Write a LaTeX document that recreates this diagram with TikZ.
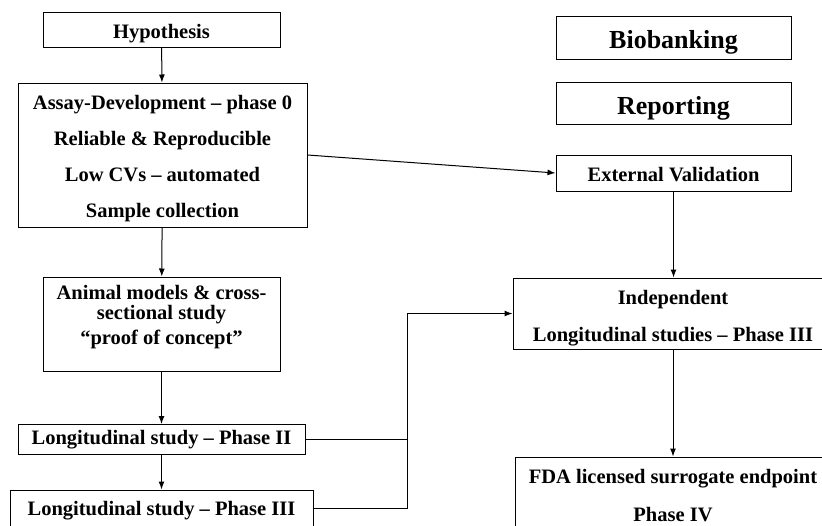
\documentclass[tikz,border=0pt]{standalone}
\usepackage{fontspec}
\setmainfont{Liberation Serif}
\usepackage{tikz}
\usetikzlibrary{arrows.meta}

\begin{document}
\begin{tikzpicture}[x = 1pt, y = -1pt, line width = 1pt,
  >={Latex[length = 8pt, width = 6pt]},
  box/.style = {draw, line width = 1pt, align = center, inner sep = 0pt,
    font = \fontsize{20.5}{22}\selectfont\bfseries},
  big/.style = {font = \fontsize{26}{30}\selectfont\bfseries}]
  \useasboundingbox (0, 0) rectangle (822, 525);
  \clip (0, 0) rectangle (822, 525);
  % left column
  \node[box, minimum width = 237, minimum height = 35] at (161.5, 29.5) (hyp)
    {\rule{0pt}{22pt}Hypothesis};
  \node[box, minimum width = 289, minimum height = 144] at (162.5, 155) (assay)
    {\rule{0pt}{22pt}Assay-Development -- phase 0\\[14pt] Reliable \& Reproducible\\[14pt]
     Low CVs -- automated\\[14pt] Sample collection};
  \node[box, minimum width = 237, minimum height = 94] at (161.5, 324) (animal)
    {Animal models \& cross-\\[-2pt] sectional study\\[3pt]
     “proof of concept”\rule[-18pt]{0pt}{0pt}};
  \node[box, minimum width = 287, minimum height = 30] at (161.5, 439.5) (ph2)
    {Longitudinal study -- Phase II};
  \node[box, minimum width = 303, minimum height = 36] at (161.5, 508) (ph3)
    {\rule{0pt}{20pt}Longitudinal study -- Phase III};
  % right column
  \node[box, big, minimum width = 235, minimum height = 43] at (673.5, 37.5) (bio)
    {\rule{0pt}{28pt}Biobanking};
  \node[box, big, minimum width = 235, minimum height = 42] at (673.5, 103) (rep)
    {\rule{0pt}{28pt}Reporting};
  \node[box, minimum width = 235, minimum height = 36] at (673.5, 173) (ext)
    {\rule{0pt}{17pt}External Validation};
  \node[box, minimum width = 320, minimum height = 71] at (673, 313.5) (ind)
    {\rule{0pt}{24pt}Independent\\[15pt] Longitudinal studies -- Phase III};
  \node[box, minimum width = 316, minimum height = 78] at (673, 496) (fda)
    {FDA licensed surrogate endpoint\\[16pt] Phase IV};
  \coordinate (bend) at (407, 313.5);
  % connectors
  \draw[->] (hyp) -- (assay);
  \draw[->] (assay) -- (animal);
  \draw[->] (animal) -- (ph2);
  \draw[->] (ph2) -- (ph3);
  \draw[->] (assay.east) -- (ext.west);
  \draw[->] (ext.south) -- (ext.south |- ind.north);
  \draw[->] (ind) -- (fda);
  \draw (ph2.east) -| (bend);
  \draw[->] (ph3.east) -| (bend) -- (ind.west);
\end{tikzpicture}
\end{document}
